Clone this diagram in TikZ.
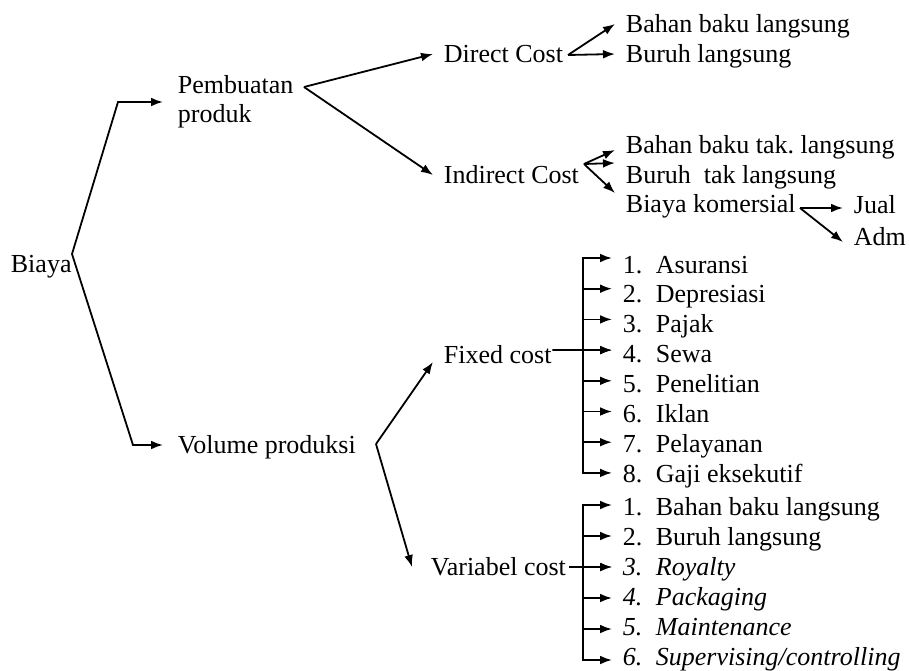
\documentclass[tikz,border=0pt]{standalone}
\usepackage{fontspec}
\setmainfont{Liberation Serif}
\usetikzlibrary{arrows.meta}
\newcommand{\nr}[1]{\makebox[16.5pt][l]{#1}}

\begin{document}
\begin{tikzpicture}[
		x=0.5pt, y=-0.5pt,
		line width=0.9pt,
		font=\fontsize{13}{14.5}\selectfont,
		T/.style = {inner xsep=5pt, inner ysep=0pt,% labels, placed at their baseline
			text height=10pt, text depth=2pt, anchor=base west},
		Ar/.style = {-{Latex[length=6pt,width=4.4pt]}},
		]
		\useasboundingbox (0,0) rectangle (910,670);
		% labels
		\node[T, inner xsep=1pt] (biaya) at (8,272) {Biaya};
		\node[inner xsep=7pt, inner ysep=0pt, anchor=west, align=left] (pemb) at (163,102) {Pembuatan\\produk};
		\node[T, inner xsep=7pt] (vol) at (163,453) {Volume produksi};
		\node[T] (dc) at (433,62) {Direct Cost};
		\node[T] (ic) at (433,183) {Indirect Cost};
		\node[T] (fc) at (433,363) {Fixed cost};
		\node[T] (vc) at (420,575) {Variabel cost};
		\node[T] (d1) at (615,32) {Bahan baku langsung};
		\node[T] (d2) at (615,62) {Buruh langsung};
		\node[T] (i1) at (615,153) {Bahan baku tak.\ langsung};
		\node[T] (i2) at (615,183) {Buruh\ \ tak langsung};
		\node[T] (i3) at (615,212) {Biaya komersial};
		\node[T] (jual) at (843,213) {Jual};
		\node[T] (adm) at (843,245) {Adm};
		% the two lists, with the arrow end of each entry
		\foreach \t [count=\k] in {Asuransi,Depresiasi,Pajak,Sewa,Penelitian,Iklan,Pelayanan,Gaji eksekutif}{
			\node[T] (F-\k) at (612,{273+29.9*(\k-1)}) {\nr{\k.}\t};
			\coordinate (F-\k-in) at (612,{258+30.7*(\k-1)});
		}
		\foreach \t [count=\k] in {Bahan baku langsung,Buruh langsung,Royalty,Packaging,Maintenance,Supervising/controlling}{
			\node[T] (V-\k) at (612,{515+30*(\k-1)}) {\ifnum\k>2 \itshape\fi\nr{\k.}\t};
			\coordinate (V-\k-in) at (612,{505+31*(\k-1)});
		}
		% branch points
		\coordinate (jB) at (72,254);
		\coordinate (jP) at (304,87);
		\coordinate (jV) at (376,444);
		\coordinate (jD) at (568,55);
		\coordinate (jI) at (584,164);
		\coordinate (jK) at (800,208);
		\coordinate (bar) at (583,0);
		% connectors
		\draw[Ar] (jB) -- ([xshift=-22.5pt]pemb.west) -- (pemb.west);
		\draw[Ar] (jB) -- ([xshift=-15pt]vol.west) -- (vol.west);
		\draw[Ar] (jP) -- (dc.west);
		\draw[Ar] (jP) -- (ic.west);
		\draw[Ar] (jD) -- (d1.west);
		\draw[Ar] (jD) -- (d2.west);
		\draw[Ar] (jI) -- ([yshift=-2.5pt]i1.west);
		\draw[Ar] (jI) -- ([yshift=6pt]i2.west);
		\draw[Ar] (jI) -- ([yshift=5.5pt]i3.west);
		\draw[Ar] (jK) -- ([yshift=-1.5pt]jual.west);
		\draw[Ar] (jK) -- ([yshift=-2.5pt]adm.west);
		\draw[Ar] (jV) -- ([yshift=-3.5pt]fc.west);
		\draw[Ar] (jV) -- ([xshift=-4pt]vc.west);
		\draw[Ar] ([xshift=-5pt,yshift=2.5pt]fc.east) -- (F-4-in);
		\draw[Ar] ([xshift=-4pt]vc.east) -- (V-3-in);
		\foreach \k in {1,...,8}
		\draw[Ar] (F-\k-in -| bar) -- (F-\k-in);
		\draw[line cap=rect] (F-1-in -| bar) -- (F-8-in -| bar);
		\foreach \k in {1,...,6}
		\draw[Ar] (V-\k-in -| bar) -- (V-\k-in);
		\draw[line cap=rect] (V-1-in -| bar) -- (V-6-in -| bar);
	\end{tikzpicture}
\end{document}
